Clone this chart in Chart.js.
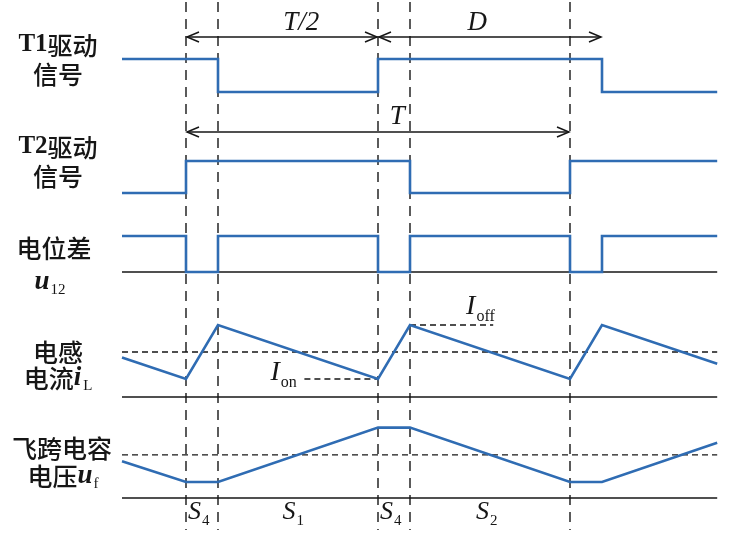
<!DOCTYPE html>
<html><head><meta charset="utf-8">
<script src="https://cdn.jsdelivr.net/npm/chart.js@4.4.1/dist/chart.umd.min.js"></script>
<style>html,body{margin:0;padding:0;background:#fff;overflow:hidden}#wrap{width:743px;height:534px}</style>
</head><body><div id="wrap"><canvas id="c" width="743" height="534"></canvas></div>
<script>
// ---- data (time in units of the dead time; period T = 12) ----
const switchTimes = [0, 1, 6, 7, 12];           // dashed guide lines
const tStart = -2, tEnd = 16.6;
const t1Time  = [-2, 1, 1, 6, 6, 13, 13, 16.6];
const t1Level = [ 1, 1, 0, 0, 1,  1,  0,  0];
const t2Time  = [-2, 0, 0, 7, 7, 12, 12, 16.6];
const t2Level = [ 0, 0, 1, 1, 0,  0,  1,  1];
const u12Time  = [-2, 0, 0, 1, 1, 6, 6, 7, 7, 12, 12, 13, 13, 16.6];
const u12Level = [ 1, 1, 0, 0, 1, 1, 0, 0, 1,  1,  0,  0,  1,  1];
const iLTime  = [-2, 0, 1, 6, 7, 12, 13, 16.6];
const iLValue = [2.2, 1, 4, 1, 4, 1, 4, 1.85];
const iLMean = 2.5, iOn = 1, iOff = 4;
const ufTime  = [-2, 0, 1, 6, 7, 12, 13, 16.6];
const ufValue = [2.3, 1, 1, 4.4, 4.4, 1, 1, 3.45];
const ufMean = 2.7;

// ---- layout (lane baselines / scales in chart y-units) ----
const lanes = {
  t1:  {base: 92,  scale: 33},
  t2:  {base: 193, scale: 32},
  u12: {base: 272, scale: 36},
  iL:  {base: 397, scale: 18},
  uf:  {base: 498, scale: 16}
};
const BLUE = '#2f6cb3', INK = '#161616';
const yOf = (lane, v) => lanes[lane].base - v * lanes[lane].scale;
const pts = (lane, ts, vs) => ts.map((t, i) => ({x: t, y: yOf(lane, vs[i])}));

const datasets = [];
function addLine(data, color, width, dash, order) {
  datasets.push({data, borderColor: color, borderWidth: width, borderDash: dash || [],
    pointRadius: 0, tension: 0, fill: false, order, clip: false,
    borderCapStyle: 'butt', borderJoinStyle: 'miter'});
}
// waveforms
addLine(pts('t1', t1Time, t1Level), BLUE, 2.6, null, 0);
addLine(pts('t2', t2Time, t2Level), BLUE, 2.6, null, 0);
addLine(pts('u12', u12Time, u12Level), BLUE, 2.6, null, 0);
addLine(pts('iL', iLTime, iLValue), BLUE, 2.6, null, 0);
addLine(pts('uf', ufTime, ufValue), BLUE, 2.6, null, 0);
// baselines
['u12', 'iL', 'uf'].forEach(l => addLine([{x: tStart, y: yOf(l, 0)}, {x: tEnd, y: yOf(l, 0)}], INK, 1.5, null, 1));
// mean lines
addLine([{x: tStart, y: yOf('iL', iLMean)}, {x: tEnd, y: yOf('iL', iLMean)}], INK, 1.3, [6, 4], 1);
addLine([{x: tStart, y: yOf('uf', ufMean)}, {x: tEnd, y: yOf('uf', ufMean)}], INK, 1.3, [6, 4], 1);
// Ion / Ioff markers
addLine([{x: 3.7, y: yOf('iL', iOn)}, {x: 6, y: yOf('iL', iOn)}], INK, 1.3, [6, 4], 1);
addLine([{x: 7, y: yOf('iL', iOff)}, {x: 9.6, y: yOf('iL', iOff)}], INK, 1.3, [6, 4], 1);
// vertical guides
switchTimes.forEach(t => addLine([{x: t, y: 2}, {x: t, y: 530}], INK, 1.4, [10, 7], 2));

const arrows = [
  {from: 0, to: 6, y: 37, label: 'T/2', lx: 3.6, ly: 23},
  {from: 6, to: 13, y: 37, label: 'D', lx: 9.1, ly: 23},
  {from: 0, to: 12, y: 132, label: 'T', lx: 6.6, ly: 117}
];

const SERIF = '"Liberation Serif", "DejaVu Serif", serif';
const CJK = '"Noto Sans CJK SC", sans-serif';
function richWidth(ctx, parts) {
  let w = 0; parts.forEach(p => { ctx.font = p.f; w += ctx.measureText(p.t).width + (p.gap || 0); }); return w;
}
function drawRich(ctx, parts, cx, cy) {
  let x = cx - richWidth(ctx, parts) / 2;
  parts.forEach(p => { ctx.font = p.f; ctx.fillText(p.t, x, cy + (p.dy || 0)); x += ctx.measureText(p.t).width + (p.gap || 0); });
}
const cj = '500 25px ' + CJK;
const leftLabels = [
  {y: 45, parts: [{t: 'T1', f: 'bold 25px ' + SERIF}, {t: '驱动', f: cj}]},
  {y: 74, parts: [{t: '信号', f: cj}]},
  {y: 147, parts: [{t: 'T2', f: 'bold 25px ' + SERIF}, {t: '驱动', f: cj}]},
  {y: 176, parts: [{t: '信号', f: cj}]},
  {y: 248, x: 54, parts: [{t: '电位差', f: cj}]},
  {y: 282, x: 50, parts: [{t: 'u', f: 'italic bold 27px ' + SERIF, gap: 1}, {t: '12', f: '15px ' + SERIF, dy: 8}]},
  {y: 352, parts: [{t: '电感', f: cj}]},
  {y: 378, parts: [{t: '电流', f: cj}, {t: 'i', f: 'italic bold 27px ' + SERIF, gap: 2}, {t: 'L', f: '15px ' + SERIF, dy: 8}]},
  {y: 448, x: 62, parts: [{t: '飞跨电容', f: cj}]},
  {y: 476, x: 63, parts: [{t: '电压', f: cj}, {t: 'u', f: 'italic bold 27px ' + SERIF, gap: 1}, {t: 'f', f: '15px ' + SERIF, dy: 8}]}
];
const phaseLabels = [
  {t: 0.4, sub: '4'}, {t: 3.35, sub: '1'}, {t: 6.4, sub: '4'}, {t: 9.4, sub: '2'}
];

const annot = {
  id: 'annot',
  afterDatasetsDraw(chart) {
    const ctx = chart.ctx, X = v => chart.scales.x.getPixelForValue(v), Y = v => chart.scales.y.getPixelForValue(v);
    ctx.save();
    ctx.fillStyle = INK; ctx.strokeStyle = INK; ctx.textBaseline = 'middle'; ctx.textAlign = 'left';
    // arrows
    arrows.forEach(a => {
      const x1 = X(a.from) + 1, x2 = X(a.to) - 1, y = Y(a.y);
      ctx.lineWidth = 1.5; ctx.setLineDash([]);
      ctx.beginPath(); ctx.moveTo(x1, y); ctx.lineTo(x2, y); ctx.stroke();
      ctx.beginPath();
      ctx.moveTo(x1 + 12, y - 5); ctx.lineTo(x1, y); ctx.lineTo(x1 + 12, y + 5);
      ctx.moveTo(x2 - 12, y - 5); ctx.lineTo(x2, y); ctx.lineTo(x2 - 12, y + 5);
      ctx.stroke();
      drawRich(ctx, [{t: a.label, f: 'italic 27px ' + SERIF}], X(a.lx), Y(a.ly));
    });
    // left labels
    leftLabels.forEach(l => drawRich(ctx, l.parts, l.x || 58, Y(l.y)));
    // phase labels
    phaseLabels.forEach(p => drawRich(ctx, [{t: 'S', f: 'italic 26px ' + SERIF, gap: 1}, {t: p.sub, f: '15px ' + SERIF, dy: 9}], X(p.t), Y(512)));
    // Ion / Ioff
    drawRich(ctx, [{t: 'I', f: 'italic 28px ' + SERIF, gap: 1}, {t: 'on', f: '16px ' + SERIF, dy: 10}], X(3.05), Y(373));
    drawRich(ctx, [{t: 'I', f: 'italic 28px ' + SERIF, gap: 1}, {t: 'off', f: '16px ' + SERIF, dy: 10}], X(9.2), Y(307));
    ctx.restore();
  }
};

new Chart(document.getElementById('c'), {
  type: 'line',
  data: {datasets},
  options: {
    responsive: false, animation: false, devicePixelRatio: 1,
    layout: {padding: 0},
    plugins: {legend: {display: false}, tooltip: {enabled: false}},
    events: [],
    scales: {
      x: {type: 'linear', display: false, min: -2 - 122 / 32, max: -2 - 122 / 32 + 743 / 32},
      y: {type: 'linear', display: false, min: 0, max: 534, reverse: true}
    }
  },
  plugins: [annot]
});
</script></body></html>
